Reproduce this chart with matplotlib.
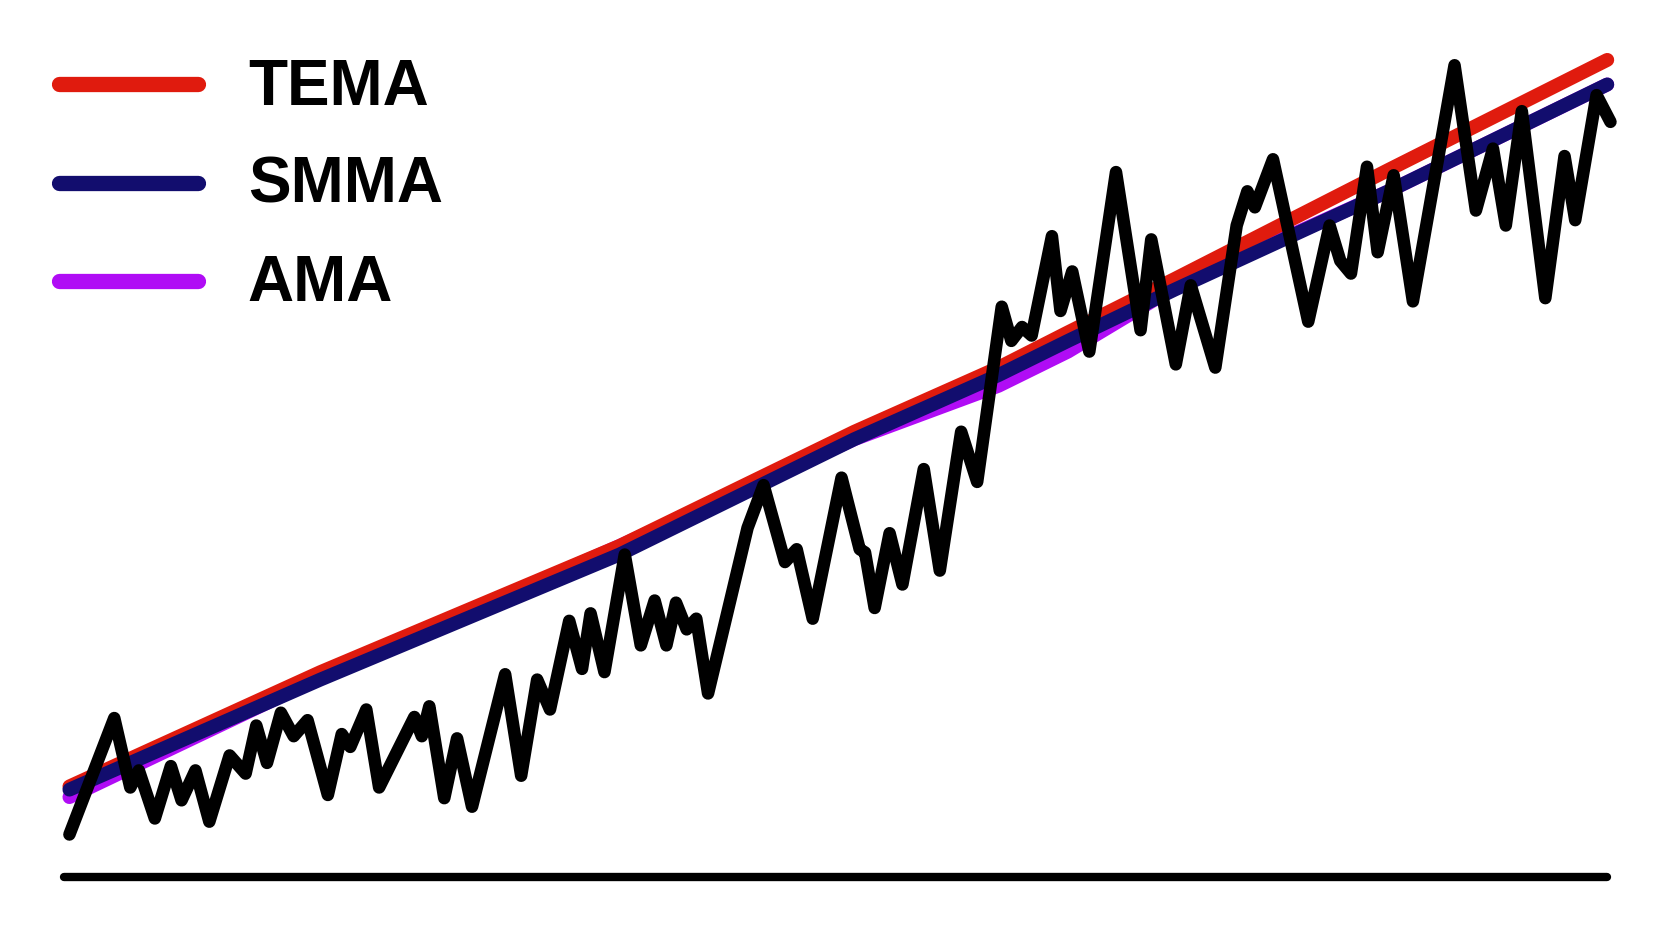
import matplotlib
matplotlib.use("Agg")
import matplotlib.pyplot as plt

# price series (x, y; y grows downward)
price_x = [65,107,122,130,145,160,170,183,196,215,230,240,250,263,275,288,307,320,328,343,355,388,395,402,416,428,442,473,488,503,515,533,545,553,566,585,600,613,624,633,643,652,663,700,715,735,746,761,788,805,810,819,833,845,865,880,900,915,938,947,957,966,985,993,1004,1020,1045,1068,1078,1101,1115,1138,1158,1168,1175,1192,1225,1245,1255,1265,1280,1290,1305,1323,1362,1382,1398,1410,1425,1447,1465,1475,1495,1508]
price_y = [782,673,738,722,767,718,750,722,770,708,725,680,715,668,690,675,745,688,700,665,738,672,690,662,748,692,756,632,727,637,665,582,627,575,630,520,605,563,605,565,590,580,650,495,455,527,515,580,448,515,518,570,500,548,440,535,405,452,288,320,307,315,222,292,255,330,162,310,225,342,268,345,212,180,195,150,302,212,245,257,157,237,165,283,62,198,140,212,105,280,147,207,90,115]

ma_x = [65,300,580,800,935,1000,1100,1300,1505]
tema_y = [737,630,512,405,345,312,262,160,57]
smma_y = [740,637,520,412,352,320,272,180,80]
ama_y = [747,635,512,412,362,330,270,180,80]

labels = ["TEMA", "SMMA", "AMA"]
colors = ["#e01b0e", "#120d6e", "#b00cf5"]

fig = plt.figure(figsize=(16.66, 9.37), dpi=100)
ax = fig.add_axes([0, 0, 1, 1])
ax.set_xlim(0, 1560)
ax.set_ylim(877, 0)
ax.axis("off")

ax.plot(ma_x, ama_y, color=colors[2], lw=10, solid_capstyle="round", zorder=2)
ax.plot(ma_x, tema_y, color=colors[0], lw=10, solid_capstyle="round", zorder=3)
ax.plot(ma_x, smma_y, color=colors[1], lw=10, solid_capstyle="round", zorder=4)
ax.plot(price_x, price_y, color="black", lw=9, solid_joinstyle="round",
        solid_capstyle="round", zorder=5)
ax.plot([60, 1505], [822, 822], color="black", lw=6, solid_capstyle="round", zorder=5)

for i, (lab, c) in enumerate(zip(labels, colors)):
    y = 80 + i * 92
    ax.plot([55, 185], [y, y], color=c, lw=11, solid_capstyle="round")
    ax.text(232, y + 2, lab, fontsize=46, fontweight="bold", family="Liberation Sans",
            va="center", ha="left", color="black")

fig.savefig("out.png", dpi=100)
